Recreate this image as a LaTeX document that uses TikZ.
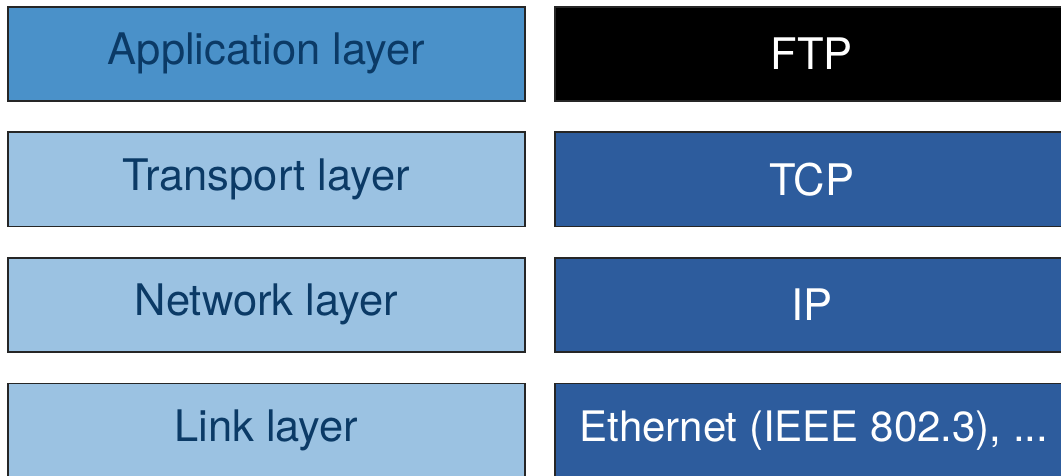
\documentclass[tikz,border=0pt]{standalone}
\usepackage{fontspec}
\setmainfont{TeX Gyre Heros}
\definecolor{appblue}{HTML}{4A91C9}
\definecolor{lightblue}{HTML}{9BC2E2}
\definecolor{darkblue}{HTML}{2D5C9D}
\definecolor{navytext}{HTML}{0B3A66}
\newcommand{\lbl}[2][0pt]{\hspace*{#1}\raisebox{-2pt}{#2}}
\tikzset{
  layerbox/.style={draw=black!85, line width=1.6pt, fill=lightblue, minimum width=517pt, minimum height=94pt, anchor=north west, inner sep=0pt, font=\fontsize{43.5}{50}\selectfont, text=navytext},
  appbox/.style={layerbox, fill=appblue},
  protobox/.style={layerbox, fill=darkblue, text=white, minimum width=520pt},
  ftpbox/.style={protobox, fill=black},
}
\begin{document}
\begin{tikzpicture}[x=1pt,y=-1pt]
\useasboundingbox (0,0) rectangle (1061,476);
\clip (0,0) rectangle (1061,476);
\node[appbox] (app) at (7,6) {\lbl{Application layer}};
\node[layerbox] (trans) at (7,131.5) {\lbl{Transport layer}};
\node[layerbox] (net) at (7,257) {\lbl{Network layer}};
\node[layerbox] (link) at (7,382.5) {\lbl{Link layer}};
\node[ftpbox] (ftp) at (554,6) {\lbl[-6pt]{FTP}};
\node[protobox] (tcp) at (554,131.5) {\lbl[-6pt]{TCP}};
\node[protobox] (ip) at (554,257) {\lbl[-6pt]{IP}};
\node[protobox, font=\fontsize{42}{50}\selectfont] (eth) at (554,382.5) {\lbl[-2pt]{Ethernet (IEEE 802.3), ...}};
\end{tikzpicture}
\end{document}
